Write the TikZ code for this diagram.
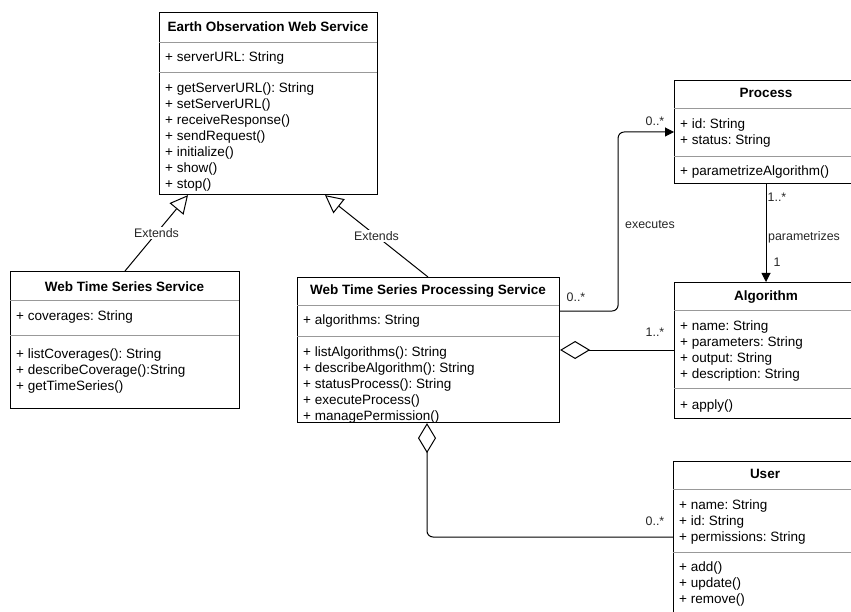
\documentclass[tikz,border=0pt]{standalone}
\usepackage{fontspec}
\setmainfont{Liberation Sans}
\usetikzlibrary{arrows.meta}
\frenchspacing

% one member line per node, 16pt apart, starting at a given baseline
\newcommand\classlines[4]{%
  \foreach \txt [count=\k from 0] in {#4}
    \node[member] (#1-\k) at (#2, #3+16*\k) {\txt};
}

\begin{document}
\begin{tikzpicture}[x=1pt, y=-1pt,
  umlclass/.style={draw=black, line width=1.1pt, fill=white, inner sep=0pt,
    anchor=north west},
  compartment/.style={draw=black!40, line width=0.9pt},
  member/.style={anchor=base west, inner sep=0pt,
    font=\fontsize{13.5}{16}\selectfont},
  classtitle/.style={anchor=base, inner sep=0pt,
    font=\bfseries\fontsize{13.5}{16}\selectfont},
  edgelabel/.style={inner sep=1pt, text=black!85,
    font=\fontsize{12.4}{14}\selectfont},
  link/.style={draw=black, line width=1pt},
  extends/.style={link, -{Triangle[open, length=18pt, width=18pt]}},
  assoc/.style={link, -{Triangle[length=9pt, width=9pt]}},
  aggregation/.style={link, {Diamond[open, length=30pt, width=18pt]}-},
]
\useasboundingbox (0,0) rectangle (851,612);
\clip (0,0) rectangle (851,612);

% ---------- classes ----------
\node[umlclass, minimum width=218, minimum height=182] (eows) at (159,12) {};
\node[umlclass, minimum width=229, minimum height=137] (wtss) at (10,271) {};
\node[umlclass, minimum width=262, minimum height=145] (wtsps) at (297,277) {};
\node[umlclass, minimum width=184, minimum height=103] (process) at (674,80) {};
\node[umlclass, minimum width=184, minimum height=136] (algorithm) at (674,282) {};
\node[umlclass, minimum width=185, minimum height=160] (user) at (673,461) {};

% compartment separators
\draw[compartment] (159,42) -- (377,42) (159,72) -- (377,72);
\draw[compartment] (10,300) -- (239,300) (10,335) -- (239,335);
\draw[compartment] (297,305) -- (559,305) (297,336) -- (559,336);
\draw[compartment] (674,108) -- (858,108) (674,156) -- (858,156);
\draw[compartment] (674,310) -- (858,310) (674,388) -- (858,388);
\draw[compartment] (673,489) -- (858,489) (673,552) -- (858,552);

% Earth Observation Web Service
\node[classtitle] (eows-title) at (268,31.5) {Earth Observation Web Service};
\classlines{eows-a}{165}{61.5}{+ serverURL: String}
\classlines{eows-o}{165}{92.5}{+ getServerURL(): String, + setServerURL(),
  + receiveResponse(), + sendRequest(), + initialize(), + show(), + stop()}

% Web Time Series Service
\node[classtitle] (wtss-title) at (124.5,291.5) {Web Time Series Service};
\classlines{wtss-a}{16}{320.5}{+ coverages: String}
\classlines{wtss-o}{16}{358.5}{+ listCoverages(): String,
  + describeCoverage():String, + getTimeSeries()}

% Web Time Series Processing Service
\node[classtitle] (wtsps-title) at (428,294.5) {Web Time Series Processing Service};
\classlines{wtsps-a}{303}{324.5}{+ algorithms: String}
\classlines{wtsps-o}{303}{356.5}{+ listAlgorithms(): String,
  + describeAlgorithm(): String, + statusProcess(): String,
  + executeProcess(), + managePermission()}

% Process
\node[classtitle] (process-title) at (766,98) {Process};
\classlines{process-a}{680}{128.5}{+ id: String, + status: String}
\classlines{process-o}{680}{176}{+ parametrizeAlgorithm()}

% Algorithm
\node[classtitle] (algorithm-title) at (766,300) {Algorithm};
\classlines{algorithm-a}{680}{330.5}{+ name: String, + parameters: String,
  + output: String, + description: String}
\classlines{algorithm-o}{680}{409}{+ apply()}

% User
\node[classtitle] (user-title) at (765,478) {User};
\classlines{user-a}{679}{509}{+ name: String, + id: String,
  + permissions: String}
\classlines{user-o}{679}{571.5}{+ add(), + update(), + remove()}

% ---------- relations ----------
% generalisations
\draw[extends] ([xshift=115pt]wtss.north west) -- ([xshift=29pt]eows.south west)
  node[pos=0.5, edgelabel, fill=white] (ext1) {Extends};
\draw[extends] ([xshift=131pt]wtsps.north west) -- ([xshift=166pt]eows.south west)
  node[pos=0.5, edgelabel, fill=white] (ext2) {Extends};

% executes
\draw[assoc, rounded corners=6pt] ([yshift=-34pt]wtsps.north east) -- ++(58,0)
  |- ([yshift=-52pt]process.north west);
\node[edgelabel] (exec-src) at (576,297) {0..*};
\node[edgelabel] (exec-dst) at (655,121) {0..*};
\node[edgelabel] (exec) at (650,225) {executes};

% parametrizes
\draw[assoc] ([xshift=92pt]process.south west) -- ([xshift=92pt]algorithm.north west);
\node[edgelabel] (par-src) at (777,197) {1..*};
\node[edgelabel, anchor=west] (par) at (767,237) {parametrizes};
\node[edgelabel] (par-dst) at (777,262) {1};

% aggregations
\draw[aggregation] ([yshift=-73pt]wtsps.north east) -- ([yshift=-68pt]algorithm.north west);
\node[edgelabel] (agg-alg) at (655,332) {1..*};
\draw[aggregation, rounded corners=6pt] ([xshift=130pt]wtsps.south west)
  |- ([yshift=-76pt]user.north west);
\node[edgelabel] (agg-user) at (655,521) {0..*};
\end{tikzpicture}
\end{document}
